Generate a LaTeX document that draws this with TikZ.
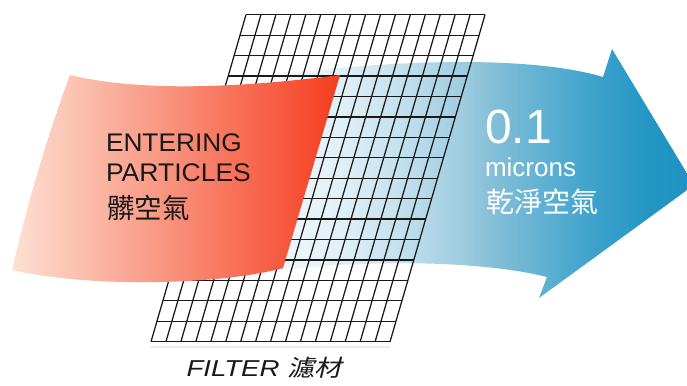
\documentclass[tikz,border=0pt]{standalone}
\usepackage{fontspec}
\usepackage{graphicx}
\setmainfont{Liberation Sans}
\newfontfamily\cjk{Noto Sans CJK TC}
\newfontfamily\cjkit[FakeSlant=0.2]{Noto Sans CJK TC}
\definecolor{redL}{RGB}{253,225,212}
\definecolor{redR}{RGB}{245,60,30}
\definecolor{bA}{RGB}{238,246,250}
\definecolor{bB}{RGB}{225,240,247}
\definecolor{bC}{RGB}{195,225,238}
\definecolor{bD}{RGB}{160,205,225}
\definecolor{bE}{RGB}{130,190,215}
\definecolor{bF}{RGB}{90,175,210}
\definecolor{bG}{RGB}{58,160,202}
\definecolor{bH}{RGB}{35,150,196}
\definecolor{bI}{RGB}{30,146,194}
\definecolor{gridc}{RGB}{25,25,25}
\pgfdeclarehorizontalshading{blueshade}{100bp}{color(0bp)=(white); color(25bp)=(white); color(29.5bp)=(bA); color(35.1bp)=(bB); color(41.9bp)=(bC); color(48.6bp)=(bD); color(52.6bp)=(bE); color(58.8bp)=(bF); color(64.4bp)=(bG); color(70bp)=(bH); color(75bp)=(bI); color(100bp)=(bI)}
\tikzset{
  gridline/.style={draw=gridc, line width=1.25pt},
  txt/.style={anchor=base west, inner sep=0pt, outer sep=0pt},
}
\begin{document}
\begin{tikzpicture}[x=1pt,y=-1pt]
\useasboundingbox (0,0) rectangle (687,385);
\fill[white] (0,0) rectangle (687,385);
% blue arrow
\begin{scope}
\clip (0,0) rectangle (687,385);
\shade[shading=blueshade] (250,80) .. controls (350,62) and (520,52) .. (603,77) -- (612,49) -- (694,185) -- (539,298) -- (547,277) .. controls (480,260) and (350,258) .. (250,275) -- cycle;
\end{scope}
% faint shadow under the filter
\draw[gray!15, line width=2pt] (150,347) -- (390,347);
% filter grid
\foreach \k in {0,...,16} {
  \draw[gridline] ({246+14.94*\k},14.7) -- ({151+14.94*\k},341.7);
  \pgfmathsetmacro\yy{14.7+20.4375*\k}
  \pgfmathsetmacro\xx{246-0.29052*(\yy-14.7)}
  \draw[gridline] (\xx,\yy) -- ({\xx+239},\yy);
}
% red incoming sheet
\shade[left color=redL, right color=redR] (70,75) .. controls (140,92) and (240,88) .. (340,75) -- (283,268) .. controls (220,285) and (90,288) .. (12,270) .. controls (27,205) and (46,140) .. cycle;
% texts
\node[txt, text=black!90] (entering) at (106,151.7) {\fontsize{25.5}{30}\selectfont\scalebox{1.03}[1]{ENTERING}};
\node[txt, text=black!90] (particles) at (106,181.7) {\fontsize{25.5}{30}\selectfont\scalebox{1.04}[1]{PARTICLES}};
\node[txt, text=black!90] (dirty) at (107,218.8) {\fontsize{27.5}{30}\selectfont\cjk 髒空氣};
\node[txt, text=white] (size) at (485,143.3) {\fontsize{48}{50}\selectfont 0.1};
\node[txt, text=white] (microns) at (485,176) {\fontsize{26}{30}\selectfont microns};
\node[txt, text=white] (clean) at (486,212) {\fontsize{28}{30}\selectfont\cjk 乾淨空氣};
\node[txt, text=black!90] (filter) at (186.5,376) {\fontsize{23}{26}\selectfont\scalebox{1.2}[1]{\itshape FILTER {\cjkit 濾材}}};
\end{tikzpicture}
\end{document}
